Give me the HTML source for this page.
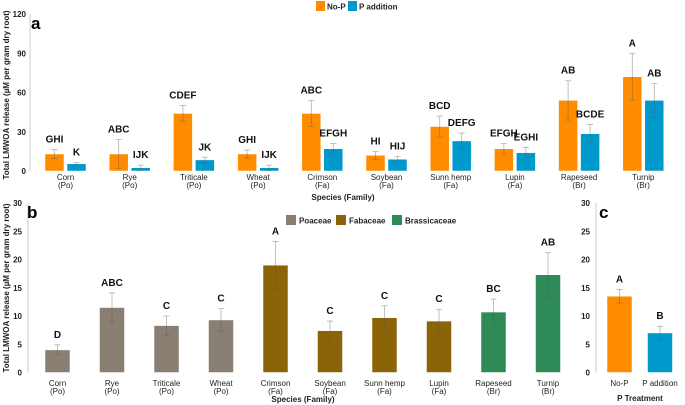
<!DOCTYPE html>
<html><head><meta charset="utf-8"><style>
body{margin:0;background:#fff}
svg{display:block;font-family:"Liberation Sans",Arial,sans-serif}
</style></head><body>
<svg id="c" width="685" height="405" viewBox="0 0 685 405"></svg>
<script>
const species=["Corn","Rye","Triticale","Wheat","Crimson","Soybean","Sunn hemp","Lupin","Rapeseed","Turnip"];
const families=["(Po)","(Po)","(Po)","(Po)","(Fa)","(Fa)","(Fa)","(Fa)","(Br)","(Br)"];
const aNoP=[13,13,44,13,44,12,34,17,54,72];
const aNoPErr=[3.5,11,6,3,10,3,8,4,15,18];
const aNoPLet=["GHI","ABC","CDEF","GHI","ABC","HI","BCD","EFGH","AB","A"];
const aP=[5.5,2.5,8.5,2.5,17,9,23,14,28.5,54];
const aPErr=[1,2,2,2,4,2,6,4,7,13];
const aPLet=["K","IJK","JK","IJK","EFGH","HIJ","DEFG","EGHI","BCDE","AB"];
const aTicks=[0,30,60,90,120];
const bVals=[4,11.5,8.3,9.3,19,7.4,9.7,9.1,10.7,17.3];
const bErr=[0.9,2.6,1.7,2,4.2,1.7,2.1,2.1,2.3,3.9];
const bLet=["D","ABC","C","C","A","C","C","C","BC","AB"];
const bFam=["Poaceae","Poaceae","Poaceae","Poaceae","Fabaceae","Fabaceae","Fabaceae","Fabaceae","Brassicaceae","Brassicaceae"];
const bTicks=[0,5,10,15,20,25,30];
const cCats=["No-P","P addition"];
const cVals=[13.5,7];
const cErr=[1.2,1.2];
const cLet=["A","B"];

const svg=document.getElementById('c');
const NS='http://www.w3.org/2000/svg';
function el(t,a,txt){const e=document.createElementNS(NS,t);for(const k in a)e.setAttribute(k,a[k]);if(txt!==undefined)e.textContent=txt;svg.appendChild(e);return e;}
const famCol={Poaceae:"#8a7f73",Fabaceae:"#8b6409",Brassicaceae:"#2e8b57"};
const OR="#ff8c00",BL="#0099cc";

const ay=v=>171-v*(157/120);
const ax=i=>54.5+i*64.2;
let e;
e=el('line',{x1:30,y1:14,x2:30,y2:171,stroke:'#ccc'});

aTicks.forEach(t=>{e=el('text',{x:26,y:ay(t)+3,'font-size':8,'font-weight':'bold','text-anchor':'end',fill:'#222'},t);
});
e=el('text',{x:0,y:0,'font-size':8,'font-weight':'bold',fill:'#222','text-anchor':'middle',transform:'translate(9,95) rotate(-90)'},'Total LMWOA release (µM per gram dry root)');

e=el('text',{x:31,y:29,'font-size':17,'font-weight':'bold'},'a');

function bar(x,w,v,err,col,let,yf,name,fs){
  const y0=yf(0),y=yf(v);
  let r=el('rect',{x:x-w/2,y:y,width:w,height:y0-y,fill:col,stroke:'#fff','stroke-width':0.5});
  
  const t=yf(v+err),b=yf(Math.max(0,v-err));
  r=el('path',{d:`M${x} ${t}V${b}M${x-3} ${t}H${x+3}M${x-3} ${b}H${x+3}`,stroke:'#555','stroke-opacity':0.45,'stroke-width':0.8,fill:'none'});
  
  r=el('text',{x:x,y:t-7,'font-size':fs,'font-weight':'bold','text-anchor':'middle',fill:'#111'},let);
  
}
species.forEach((s,i)=>{
  bar(ax(i),19,aNoP[i],aNoPErr[i],OR,aNoPLet[i],ay,'a-bar-nop-'+i,10);
  bar(ax(i)+22,19,aP[i],aPErr[i],BL,aPLet[i],ay,'a-bar-p-'+i,10);
  let t=el('text',{x:ax(i)+11,y:180,'font-size':8,'text-anchor':'middle',fill:'#222'},s);
  
  t=el('text',{x:ax(i)+11,y:188,'font-size':8,'text-anchor':'middle',fill:'#222'},families[i]);
  
});
e=el('text',{x:343,y:200,'font-size':8,'font-weight':'bold','text-anchor':'middle',fill:'#222'},'Species (Family)');

[[316,OR,'No-P'],[348,BL,'P addition']].forEach(([x,c,l],k)=>{
  let r=el('rect',{x:x,y:1,width:9,height:10,fill:c});
  
  r=el('text',{x:x+11,y:9.5,'font-size':8,'font-weight':'bold',fill:'#222'},l);
  
});

const by=v=>372.5-v*(169.5/30);
const bx=i=>57.5+i*54.5;
e=el('line',{x1:28,y1:203,x2:28,y2:372.5,stroke:'#ccc'});

bTicks.forEach(t=>{e=el('text',{x:22,y:by(t)+3,'font-size':8,'font-weight':'bold','text-anchor':'end',fill:'#222'},t);
});
e=el('text',{x:0,y:0,'font-size':8,'font-weight':'bold',fill:'#222','text-anchor':'middle',transform:'translate(9,288) rotate(-90)'},'Total LMWOA release (µM per gram dry root)');

e=el('text',{x:27,y:218,'font-size':17,'font-weight':'bold'},'b');

species.forEach((s,i)=>{
  bar(bx(i),25,bVals[i],bErr[i],famCol[bFam[i]],bLet[i],by,'b-bar-'+i,10);
  let t=el('text',{x:bx(i),y:386,'font-size':8,'text-anchor':'middle',fill:'#222'},s);
  
  t=el('text',{x:bx(i),y:394,'font-size':8,'text-anchor':'middle',fill:'#222'},families[i]);
  
});
e=el('text',{x:303,y:402,'font-size':8,'font-weight':'bold','text-anchor':'middle',fill:'#222'},'Species (Family)');

[[286,'Poaceae'],[336,'Fabaceae'],[392,'Brassicaceae']].forEach(([x,l])=>{
  let r=el('rect',{x:x,y:215,width:10,height:10,fill:famCol[l]});
  
  r=el('text',{x:x+13,y:223.5,'font-size':8,'font-weight':'bold',fill:'#222'},l);
  
});

const cx=i=>619.5+i*40.5;
e=el('line',{x1:596,y1:203,x2:596,y2:372.5,stroke:'#ccc'});

bTicks.forEach(t=>{e=el('text',{x:590,y:by(t)+3,'font-size':8,'font-weight':'bold','text-anchor':'end',fill:'#222'},t);
});
e=el('text',{x:599,y:218,'font-size':17,'font-weight':'bold'},'c');

cCats.forEach((s,i)=>{
  bar(cx(i),25,cVals[i],cErr[i],i?BL:OR,cLet[i],by,'c-bar-'+i,10);
  let t=el('text',{x:cx(i),y:386,'font-size':8,'text-anchor':'middle',fill:'#222'},s);
  
});
e=el('text',{x:640,y:401,'font-size':8,'font-weight':'bold','text-anchor':'middle',fill:'#222'},'P Treatment');

</script>
</body></html>
